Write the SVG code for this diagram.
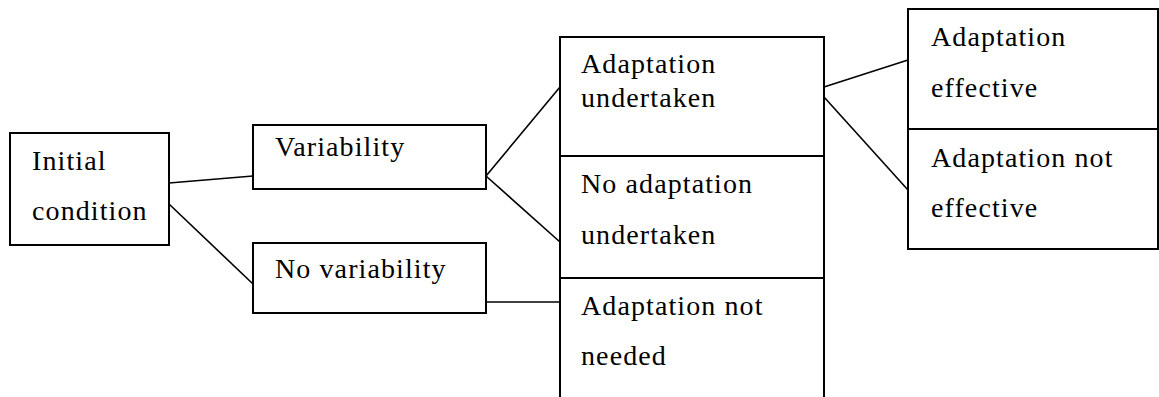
<svg xmlns="http://www.w3.org/2000/svg" width="1159" height="397" viewBox="0 0 1159 397">
<style>
.box{fill:#fff;stroke:#000;stroke-width:2}
.lbl{font-family:"Liberation Serif","Times New Roman",serif;font-size:28px;letter-spacing:1.1px;fill:#000}
.con line{stroke:#000;stroke-width:1.6}
</style>
<rect width="1159" height="397" fill="#fff"/>
<g id="connectors" class="con">
<line x1="169" y1="183" x2="253" y2="176"/>
<line x1="169" y1="204" x2="253" y2="284"/>
<line x1="486" y1="176" x2="560" y2="87"/>
<line x1="486" y1="176" x2="560" y2="242"/>
<line x1="486" y1="302" x2="560" y2="302"/>
<line x1="824" y1="87" x2="908" y2="60"/>
<line x1="824" y1="97" x2="908" y2="190"/>
</g>
<g id="initial">
<rect class="box" x="10" y="133" width="159" height="112"/>
<text class="lbl" x="32" y="170">Initial</text>
<text class="lbl" x="32" y="220">condition</text>
</g>
<g id="variability">
<rect class="box" x="253" y="125" width="233" height="64"/>
<text class="lbl" x="275" y="156">Variability</text>
</g>
<g id="no-variability">
<rect class="box" x="253" y="243" width="233" height="70"/>
<text class="lbl" x="275" y="278">No variability</text>
</g>
<g id="adaptation-undertaken">
<rect class="box" x="560" y="37" width="264" height="119"/>
<text class="lbl" x="581" y="73">Adaptation</text>
<text class="lbl" x="581" y="107">undertaken</text>
</g>
<g id="no-adaptation-undertaken">
<rect class="box" x="560" y="156" width="264" height="122"/>
<text class="lbl" x="581" y="193">No adaptation</text>
<text class="lbl" x="581" y="244">undertaken</text>
</g>
<g id="adaptation-not-needed">
<rect class="box" x="560" y="278" width="264" height="130"/>
<text class="lbl" x="581" y="315">Adaptation not</text>
<text class="lbl" x="581" y="365">needed</text>
</g>
<g id="adaptation-effective">
<rect class="box" x="908" y="9" width="250" height="120"/>
<text class="lbl" x="931" y="46">Adaptation</text>
<text class="lbl" x="931" y="97">effective</text>
</g>
<g id="adaptation-not-effective">
<rect class="box" x="908" y="129" width="250" height="120"/>
<text class="lbl" x="931" y="167">Adaptation not</text>
<text class="lbl" x="931" y="217">effective</text>
</g>
</svg>
